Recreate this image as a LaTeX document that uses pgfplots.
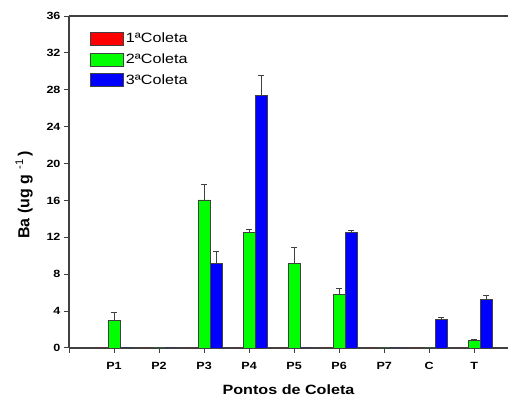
\documentclass[border=0pt]{standalone}
\usepackage{fontspec}
\setmainfont{Liberation Sans}[FakeStretch=1.2]
\newfontfamily\uprightlabel{Liberation Sans}
\usepackage{pgfplots}
\pgfplotsset{compat=1.18}
\usetikzlibrary{calc}

\definecolor{axisgray}{HTML}{404040}

\begin{document}
\begin{tikzpicture}
\begin{axis}[
  name=ax,
  scale only axis,
  width=439bp, height=332bp,
  xmin=0, xmax=9.75,
  ymin=0, ymax=36,
  ytick={0,4,...,36},
  xtick={0,1,...,9},
  xticklabels={,P1,P2,P3,P4,P5,P6,P7,C,T},
  axis x line=box,
  axis y line=left,
  x axis line style={-},
  y axis line style={-},
  axis line style={axisgray, line width=1.2pt},
  xtick pos=bottom,
  tick align=outside,
  major tick length=5bp,
  tick style={axisgray, line width=1pt},
  /pgf/number format/assume math mode=true,
  ticklabel style={font=\bfseries\fontsize{10.5}{12}\selectfont},
  xticklabel style={yshift=-6bp},
  xlabel={\bfseries Pontos de Coleta},
  xlabel style={font=\fontsize{13.5}{15}\selectfont, yshift=-8bp},
  ybar=0pt,
  bar width=12bp,
  legend style={
    draw=none, fill=none,
    at={(axis cs:0.4,34.6)}, anchor=north west,
    font=\fontsize{13.5}{15}\selectfont,
    row sep=5.5bp,
    /tikz/every even column/.append style={column sep=2bp},
  },
  legend cell align=left,
  legend image code/.code={\draw[#1, draw=axisgray] (0bp,-6.5bp) rectangle (33bp,6.5bp);},
  error bars/y dir=plus,
  error bars/y explicit,
  error bars/error bar style={axisgray, line width=1pt},
  error bars/error mark options={axisgray, line width=1pt, rotate=90, mark size=3bp},
]
% 1a coleta: no detected values
\addplot[fill=red, draw=axisgray, line width=0.8pt] coordinates {
  (1,0) (2,0) (3,0) (4,0) (5,0) (6,0) (7,0) (8,0) (9,0)
};
% 2a coleta
\addplot[fill=green, draw=axisgray, line width=0.8pt] coordinates {
  (1,2.95) +- (0,0.85)
  (2,0)
  (3,16.05) +- (0,1.65)
  (4,12.5) +- (0,0.4)
  (5,9.2) +- (0,1.75)
  (6,5.85) +- (0,0.55)
  (7,0)
  (8,0)
  (9,0.8) +- (0,0.12)
};
% 3a coleta
\addplot[fill=blue, draw=axisgray, line width=0.8pt] coordinates {
  (1,0)
  (2,0)
  (3,9.2) +- (0,1.3)
  (4,27.4) +- (0,2.2)
  (5,0)
  (6,12.5) +- (0,0.2)
  (7,0)
  (8,3.05) +- (0,0.25)
  (9,5.3) +- (0,0.35)
};
\legend{1ªColeta,2ªColeta,3ªColeta}
\end{axis}
% y axis title
\node[rotate=90, anchor=center, font=\uprightlabel\bfseries\fontsize{16}{18}\selectfont]
  at ($(ax.south west)+(-45bp,153bp)$) {Ba (ug g\,\,\textsuperscript{\mdseries -1}\,)};
\pgfresetboundingbox
\path ($(ax.south west)+(-69bp,-53bp)$) rectangle ($(ax.north east)+(0bp,16bp)$);
\end{tikzpicture}
\end{document}
